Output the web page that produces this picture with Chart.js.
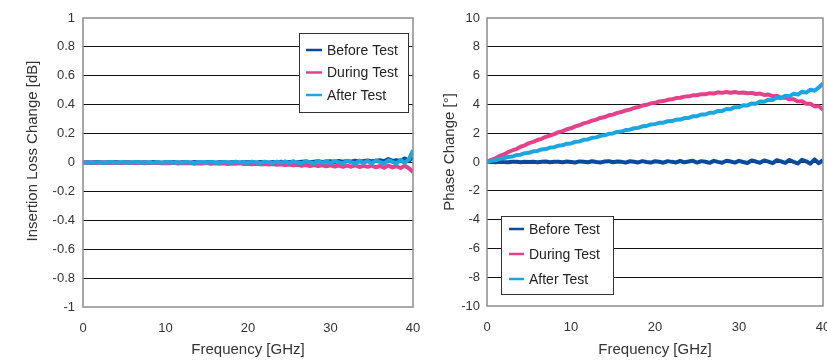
<!DOCTYPE html>
<html><head><meta charset="utf-8">
<script src="https://cdn.jsdelivr.net/npm/chart.js@4.4.1/dist/chart.umd.min.js"></script>
<style>
html,body{margin:0;padding:0;background:#fff;overflow:hidden;width:827px;height:361px;}
#c1{position:absolute;left:0;top:0;}
#c2{position:absolute;left:420px;top:0;}
</style></head><body>
<canvas id="c1" width="440" height="361"></canvas>
<canvas id="c2" width="430" height="361"></canvas>
<script>
// ---------- data ----------
const freqGHz = [
  0,0.5,1,1.5,2,2.5,3,3.5,4,4.5,
  5,5.5,6,6.5,7,7.5,8,8.5,9,9.5,
  10,10.5,11,11.5,12,12.5,13,13.5,14,14.5,
  15,15.5,16,16.5,17,17.5,18,18.5,19,19.5,
  20,20.5,21,21.5,22,22.5,23,23.5,24,24.5,
  25,25.5,26,26.5,27,27.5,28,28.5,29,29.5,
  30,30.5,31,31.5,32,32.5,33,33.5,34,34.5,
  35,35.5,36,36.5,37,37.5,38,38.5,39,39.5,
  40];
const seriesNames = ['Before Test','During Test','After Test'];

// Insertion loss change [dB]
const ilBefore = [
  0.000,0.002,-0.001,0.003,0.001,-0.002,0.002,0.000,0.003,-0.001,
  0.002,0.001,-0.002,0.003,0.000,0.002,-0.001,0.003,0.001,-0.002,
  0.002,0.000,0.003,-0.001,0.002,0.001,-0.002,0.003,0.001,-0.001,
  0.002,0.003,-0.002,0.001,0.004,-0.001,0.002,0.003,-0.002,0.004,
  0.001,0.003,-0.002,0.004,0.002,-0.001,0.004,0.002,0.005,0.000,
  0.004,0.006,0.001,0.005,0.007,0.002,0.006,0.008,0.003,0.007,
  0.009,0.004,0.010,0.006,0.011,0.005,0.012,0.007,0.010,0.014,
  0.008,0.012,0.016,0.009,0.024,0.011,0.015,0.010,0.028,0.012,
  0.035];
const ilDuring = [
  0.000,-0.002,0.001,-0.003,-0.001,0.001,-0.003,-0.002,0.000,-0.004,
  -0.002,0.000,-0.004,-0.003,-0.001,-0.005,-0.002,-0.004,-0.001,-0.005,
  -0.003,-0.006,-0.002,-0.007,-0.004,-0.006,-0.003,-0.008,-0.005,-0.007,
  -0.004,-0.009,-0.006,-0.008,-0.005,-0.010,-0.007,-0.009,-0.006,-0.011,
  -0.008,-0.012,-0.009,-0.013,-0.010,-0.014,-0.011,-0.016,-0.012,-0.017,
  -0.014,-0.020,-0.016,-0.022,-0.018,-0.024,-0.017,-0.025,-0.019,-0.026,
  -0.020,-0.028,-0.021,-0.030,-0.022,-0.029,-0.020,-0.031,-0.023,-0.030,
  -0.022,-0.033,-0.024,-0.036,-0.021,-0.034,-0.026,-0.038,-0.023,-0.040,
  -0.065];
const ilAfter = [
  0.000,0.002,-0.001,0.002,0.000,-0.002,0.001,0.003,-0.001,0.001,
  0.002,-0.002,0.001,0.003,-0.002,0.000,0.002,-0.001,0.003,-0.002,
  0.001,0.003,-0.002,0.002,-0.001,0.004,0.000,-0.003,0.003,0.001,
  -0.002,0.004,0.000,-0.003,0.004,0.001,-0.002,0.005,-0.001,0.003,
  -0.003,0.005,0.000,-0.004,0.006,0.001,-0.003,0.006,-0.002,0.007,
  -0.004,0.008,0.000,-0.005,0.009,0.002,-0.006,0.010,-0.002,0.008,
  -0.005,0.011,0.001,-0.006,0.012,0.003,-0.007,0.013,-0.003,0.011,
  -0.006,0.014,0.002,-0.008,0.016,0.004,-0.007,0.018,-0.004,0.022,
  0.085];

// Phase change [deg]
const phBefore = [
  0.00,0.01,-0.01,0.02,0.00,-0.01,0.01,0.02,-0.01,0.01,
  0.00,0.02,-0.01,0.01,0.03,-0.02,0.01,0.02,-0.01,0.03,
  0.00,-0.03,0.04,0.01,-0.02,0.05,0.00,-0.03,0.03,0.06,
  -0.02,0.04,0.01,-0.04,0.05,0.02,-0.03,0.06,0.00,-0.04,
  0.05,0.02,-0.05,0.06,0.01,-0.03,0.07,-0.02,0.04,0.08,
  -0.04,0.06,0.02,-0.06,0.08,0.01,-0.05,0.09,0.03,-0.04,
  0.08,0.00,-0.07,0.10,0.03,-0.05,0.11,0.02,-0.08,0.12,
  0.04,-0.06,0.14,0.01,-0.10,0.15,0.05,-0.12,0.18,-0.08,
  0.12];
const phDuring = [
  0.00,0.15,0.26,0.42,0.52,0.68,0.80,0.90,1.06,1.16,
  1.31,1.40,1.53,1.61,1.75,1.84,1.94,2.07,2.14,2.27,
  2.34,2.47,2.55,2.68,2.75,2.87,2.94,3.06,3.12,3.24,
  3.29,3.41,3.47,3.58,3.64,3.75,3.81,3.92,3.97,4.07,
  4.11,4.20,4.23,4.32,4.35,4.44,4.46,4.54,4.56,4.63,
  4.64,4.71,4.70,4.78,4.76,4.84,4.80,4.86,4.81,4.86,
  4.80,4.83,4.77,4.80,4.72,4.75,4.66,4.68,4.57,4.59,
  4.47,4.48,4.35,4.36,4.21,4.22,4.05,4.04,3.86,3.88,
  3.62];
const phAfter = [
  0.00,0.08,0.12,0.22,0.25,0.35,0.38,0.48,0.51,0.61,
  0.64,0.74,0.77,0.87,0.90,1.00,1.03,1.13,1.16,1.27,
  1.29,1.40,1.43,1.54,1.57,1.68,1.71,1.82,1.85,1.96,
  1.98,2.09,2.11,2.22,2.24,2.35,2.37,2.48,2.50,2.61,
  2.63,2.72,2.73,2.83,2.84,2.94,2.95,3.05,3.06,3.17,
  3.18,3.30,3.30,3.42,3.42,3.55,3.55,3.68,3.67,3.81,
  3.80,3.94,3.92,4.07,4.05,4.20,4.18,4.33,4.30,4.47,
  4.43,4.60,4.56,4.74,4.68,4.88,4.82,5.02,4.95,5.18,
  5.45];

const freqTicks = [0,10,20,30,40];
const ilTicks = [-1,-0.8,-0.6,-0.4,-0.2,0,0.2,0.4,0.6,0.8,1];
const phTicks = [-10,-8,-6,-4,-2,0,2,4,6,8,10];
const xTitle = 'Frequency [GHz]';
const ilTitle = 'Insertion Loss Change [dB]';
const phTitle = 'Phase Change [°]';

// ---------- styles ----------
const colors = ['#0a4a9c','#e5418b','#1ba6e0'];
const FONT = "'Liberation Sans', Arial, sans-serif";
Chart.defaults.font.family = FONT;

function mkDatasets(arrs){
  return arrs.map((vals,i)=>({
    label: seriesNames[i],
    data: freqGHz.map((f,j)=>({x:f, y:vals[j]})),
    borderColor: colors[i], backgroundColor: colors[i],
    borderWidth: 4, pointRadius: 0, tension: 0, order: 2-i,
    borderJoinStyle: 'round'
  }));
}

const framePlugin = {
  id: 'frame',
  afterDatasetsDraw(chart){
    const {ctx, chartArea:a} = chart;
    ctx.save();
    ctx.strokeStyle = '#8c8c8c'; ctx.lineWidth = 1.5;
    ctx.strokeRect(a.left, a.top, a.right-a.left, a.bottom-a.top);
    ctx.restore();
  }
};
const boxLegend = {
  id: 'boxLegend',
  afterDraw(chart, args, o){
    const {ctx, chartArea:a} = chart;
    const x = o.anchorX==='right' ? a.right - o.dx - o.w : a.left + o.dx;
    const y = o.anchorY==='top' ? a.top + o.dy : a.bottom - o.dy - o.h;
    ctx.save();
    ctx.fillStyle = '#fff'; ctx.fillRect(x, y, o.w, o.h);
    ctx.strokeStyle = '#333'; ctx.lineWidth = 1;
    ctx.strokeRect(Math.round(x)+0.5, Math.round(y)+0.5, o.w, o.h);
    chart.data.datasets.forEach((d,i)=>{
      const ry = y + o.rowTop + i*o.rowGap;
      ctx.strokeStyle = d.borderColor; ctx.lineWidth = 2.5;
      ctx.beginPath(); ctx.moveTo(x+o.sx0, ry-1); ctx.lineTo(x+o.sx1, ry-1); ctx.stroke();
      ctx.fillStyle = '#222'; ctx.font = '14px ' + FONT; ctx.textBaseline = 'middle'; ctx.textAlign = 'left';
      ctx.fillText(d.label, x+o.tx, ry);
    });
    ctx.restore();
  }
};
const yTitlePlugin = {
  id: 'yTitle',
  afterDraw(chart, args, o){
    const {ctx, chartArea:a} = chart;
    ctx.save();
    ctx.translate(a.left - o.dx, (a.top+a.bottom)/2 + o.dy);
    ctx.rotate(-Math.PI/2);
    ctx.fillStyle = '#333'; ctx.font = '15px ' + FONT;
    ctx.textAlign = 'center'; ctx.textBaseline = 'middle';
    ctx.fillText(o.text, 0, 0);
    ctx.restore();
  }
};

function mkOptions(c){
  return {
    responsive:false, animation:false, devicePixelRatio:1,
    layout:{padding:{top:18,right:c.padRight,left:0,bottom:0}},
    plugins:{legend:{display:false}, tooltip:{enabled:false}, boxLegend:c.legend, yTitle:c.yTitle},
    scales:{
      x:{type:'linear', min:0, max:40,
        afterBuildTicks:s=>{s.ticks=freqTicks.map(v=>({value:v}));},
        afterFit:s=>{s.height=c.xAxisH;},
        grid:{display:false, drawTicks:false}, border:{display:false},
        ticks:{padding:14, color:'#333', font:{size:13}, maxRotation:0, autoSkip:false, callback:v=>String(v)},
        title:{display:true, text:xTitle, color:'#333', font:{size:15}, padding:{top:0,bottom:2}}
      },
      y:{type:'linear', min:c.yMin, max:c.yMax,
        afterBuildTicks:s=>{s.ticks=c.yTicks.map(v=>({value:v}));},
        afterFit:s=>{s.width=c.yAxisW;},
        grid:{drawTicks:false, lineWidth:1,
          color:ctx=>(ctx.tick && (ctx.tick.value===c.yMin || ctx.tick.value===c.yMax)) ? 'rgba(0,0,0,0)' : '#111'},
        border:{display:false},
        ticks:{padding:c.yPad, color:'#333', font:{size:13}, autoSkip:false, callback:v=>String(v)}
      }
    }
  };
}

new Chart(document.getElementById('c1'), {
  type:'line',
  data:{datasets: mkDatasets([ilBefore, ilDuring, ilAfter])},
  options: mkOptions({padRight:27, xAxisH:54, yAxisW:83, yPad:8, yMin:-1, yMax:1, yTicks:ilTicks,
    legend:{anchorX:'right', anchorY:'top', dx:5, dy:15, w:109, h:79, rowTop:18, rowGap:22.5, sx0:7, sx1:23, tx:28},
    yTitle:{text:ilTitle, dx:50, dy:-11.5}}),
  plugins:[framePlugin, boxLegend, yTitlePlugin]
});
new Chart(document.getElementById('c2'), {
  type:'line',
  data:{datasets: mkDatasets([phBefore, phDuring, phAfter])},
  options: mkOptions({padRight:27, xAxisH:55, yAxisW:67, yPad:7, yMin:-10, yMax:10, yTicks:phTicks,
    legend:{anchorX:'left', anchorY:'bottom', dx:14, dy:12, w:112, h:78, rowTop:14, rowGap:25, sx0:8, sx1:23, tx:28},
    yTitle:{text:phTitle, dx:37, dy:-10}}),
  plugins:[framePlugin, boxLegend, yTitlePlugin]
});
</script>
</body></html>
